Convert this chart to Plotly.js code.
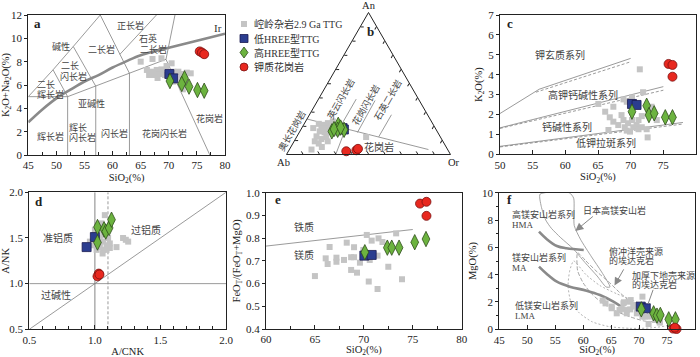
<!DOCTYPE html>
<html>
<head>
<meta charset="utf-8">
<script src="https://cdn.plot.ly/plotly-3.0.1.min.js"></script>
<style>
  html, body { margin: 0; padding: 0; background: #fff; }
  #chart { width: 700px; height: 357px; }
</style>
</head>
<body>
<div id="chart"></div>
<script>
const FONT = "'Liberation Serif', 'Noto Sans CJK SC', serif";
const W = 700;
const H = 357;

const seriesNames = ["崆岭杂岩2.9 Ga TTG", "低HREE型TTG", "高HREE型TTG", "钾质花岗岩"];

// panel a: SiO2 vs K2O+Na2O
const aGraySiO2 = [65.0, 67.1, 68.7, 66.1, 67.0, 67.85, 68.7, 69.6, 70.5, 70.8, 71.7, 72.3, 73.2, 73.9, 66.5, 67.5, 68.4, 69.3, 71.1, 70.8, 72.3, 72.4, 72.5, 68.0];
const aGrayAlk = [8.0, 8.23, 8.29, 7.29, 7.14, 7.29, 7.34, 7.63, 7.86, 7.14, 7.14, 6.94, 7.06, 7.0, 6.86, 6.86, 6.94, 6.86, 6.57, 6.29, 6.43, 6.1, 5.63, 6.6];
const aLowSiO2 = [70.1, 70.8];
const aLowAlk = [6.94, 6.57];
const aHighSiO2 = [70.2, 72.8, 72.3, 73.6, 75.1, 76.3];
const aHighAlk = [6.34, 6.57, 6.09, 5.86, 5.57, 5.51];
const aKSiO2 = [75.5, 75.9, 76.3];
const aKAlk = [8.88, 8.78, 8.64];
const aBoundSiO2 = [45, 52, null, 52, 52, null, 57, 57, null, 63, 63, null, 52, 57, 63, 69.5, null,
  45, 49.4, 53, 57.8, null, 49.4, 52, null, 53, 57, null, 57.8, 63, null, 61.3, 67.8, null, 71.1, 69.5, 77.3];
const aBoundAlk = [5, 5, null, 0, 5, null, 0, 5.9, null, 0, 7, null, 5, 5.9, 7, 8.2, null,
  5, 7.3, 9.3, 12, null, 7.3, 5, null, 9.3, 5.9, null, 12, 7, null, 8.63, 12, null, 12, 8.2, 0];
const irSiO2 = [45, 47.5, 50, 52.5, 55, 57.5, 60, 62.5, 65, 67.5, 70, 72.5, 75, 77.5, 80];
const irAlk = [2.8, 3.9, 4.85, 5.6, 6.3, 6.85, 7.5, 8.05, 8.55, 8.9, 9.2, 9.5, 9.8, 10.1, 10.4];

// panel b: An-Ab-Or (percent)
const bGrayAn = [21.6, 20.9, 22.1, 20.2, 18.6, 18.6, 16.3, 15.6, 16.3, 17.4, 12.8, 10.9, 12.3, 9.3, 7.7, 9.3, 18.6, 12.3, 23.3, 15.1, 5.3, 3.5];
const bGrayOr = [8.9, 11.8, 14.2, 17.1, 12.0, 15.0, 12.1, 15.4, 18.1, 20.5, 11.9, 15.8, 18.1, 12.6, 15.8, 20.5, 7.0, 42.4, 16.6, 23.6, 18.9, 13.5];
const bLowAn = [18.6, 17.6];
const bLowOr = [24.9, 26.2];
const bHighAn = [16.3, 20.9, 17.4, 17.4, 17.9, 19.0];
const bHighOr = [19.5, 21.1, 22.5, 26.4, 20.0, 23.5];
const bKAn = [2.3, 3.0, 4.0];
const bKOr = [35.3, 41.1, 41.6];
const bLinesAn = [[25, 3.5], [19, 39], [15.5, 38], [12.5, 28], [0, 18]];
const bLinesOr = [[0, 84.8], [23, 23], [35.5, 35], [50, 50], [30, 27]];

// panel c: SiO2 vs K2O
const cGraySiO2 = [71.4, 71.9, 65.05, 66.1, 67.35, 68.9, 69.4, 70.2, 66.8, 67.35, 66.6, 68.1, 68.9, 69.1, 69.6, 70.2, 70.4, 70.9, 71.2, 71.7, 72.45, 72.6, 71.2, 71.7, 68.6, 74.0, 73.2, 69.4, 69.9];
const cGrayK2O = [4.27, 3.12, 2.53, 2.14, 2.39, 2.76, 2.64, 2.86, 1.86, 1.64, 1.22, 1.47, 1.72, 1.36, 1.56, 1.72, 1.36, 1.47, 1.26, 1.36, 1.26, 0.85, 1.72, 1.92, 1.97, 1.72, 2.39, 1.19, 1.14];
const cLowSiO2 = [70.2, 70.9];
const cLowK2O = [2.53, 2.48];
const cHighSiO2 = [70.2, 72.45, 72.8, 73.6, 75.3, 76.4];
const cHighK2O = [2.14, 2.44, 1.97, 2.06, 1.86, 1.86];
const cKSiO2 = [75.8, 76.4, 76.4];
const cKK2O = [4.54, 4.49, 3.9];
const cSolidSiO2 = [50, 56, 70, null, 50, 75, null, 50, 78];
const cSolidK2O = [2.05, 3.27, 4.82, null, 1.33, 3.4, null, 0.4, 1.6];
const cDashSiO2 = [55.5, 70, null, 50, 75, null, 50, 78];
const cDashK2O = [3.12, 4.65, null, 1.3, 3.22, null, 0.37, 1.52];

// panel d: A/CNK vs A/NK
const dGrayACNK = [1.076, 1.05, 1.038, 1.063, 1.038, 1.063, 1.101, 1.089, 1.114, 1.114, 1.063, 1.013, 0.987, 0.962, 1.165, 1.215, 1.236, 1.254, 1.038, 1.089, 1.0, 1.059];
const dGrayANK = [1.75, 1.66, 1.59, 1.53, 1.50, 1.46, 1.50, 1.42, 1.44, 1.39, 1.37, 1.37, 1.42, 1.46, 1.40, 1.50, 1.48, 1.46, 1.40, 1.37, 1.59, 1.33];
const dLowACNK = [1.0, 0.937];
const dLowANK = [1.51, 1.40];
const dHighACNK = [1.02, 1.07, 1.083, 1.109, 1.127, 1.02];
const dHighANK = [1.62, 1.595, 1.57, 1.61, 1.70, 1.45];
const dKACNK = [1.03, 1.02, 1.035];
const dKANK = [1.11, 1.08, 1.10];

// panel e: SiO2 vs FeOT/(FeOT+MgO)
const eGraySiO2 = [65.0, 66.1, 66.3, 66.5, 67.2, 67.2, 67.97, 68.25, 68.7, 68.7, 69.0, 69.0, 69.3, 69.6, 70.3, 70.5, 70.6, 70.8, 71.5, 71.4, 71.9, 71.4, 72.5, 73.3, 73.9, 69.95];
const eGrayFe = [0.633, 0.711, 0.686, 0.761, 0.714, 0.696, 0.704, 0.780, 0.716, 0.660, 0.760, 0.716, 0.648, 0.692, 0.814, 0.609, 0.704, 0.789, 0.799, 0.576, 0.783, 0.723, 0.674, 0.821, 0.619, 0.748];
const eLowSiO2 = [70.05, 70.8];
const eLowFe = [0.723, 0.726];
const eHighSiO2 = [70.1, 72.4, 72.85, 73.6, 75.2, 76.35];
const eHighFe = [0.738, 0.758, 0.758, 0.758, 0.782, 0.796];
const eKSiO2 = [75.74, 76.4, 76.4];
const eKFe = [0.952, 0.96, 0.898];
const eLineSiO2 = [60, 75];
const eLineFe = [0.765, 0.838];

// panel f: SiO2 vs MgO
const fGraySiO2 = [65.1, 67.2, 68.1, 69.0, 70.6, 69.7, 70.6, 72.1, 72.85, 71.7, 73.7, 67.8, 66.5, 68.4, 67.3, 68.5, 66.9, 67.8, 69.0, 69.6, 70.5, 71.06, 72.26, 73.7, 66.0, 65.1, 64.0, 63.5];
const fGrayMgO = [1.66, 1.9, 2.02, 1.78, 2.39, 1.29, 0.93, 0.93, 0.68, 0.39, 0.49, 1.17, 1.41, 1.46, 1.98, 2.14, 1.49, 1.41, 1.66, 1.17, 1.34, 0.92, 1.17, 0.56, 1.17, 1.54, 1.9, 2.1];
const fLowSiO2 = [70.3, 71.2];
const fLowMgO = [1.66, 1.54];
const fHighSiO2 = [70.4, 72.6, 73.2, 73.8, 75.3, 76.5];
const fHighMgO = [1.46, 1.17, 1.0, 1.05, 0.73, 0.73];
const fKSiO2 = [76.1, 76.7, 76.4];
const fKMgO = [0.05, 0.02, 0.12];
const hmaSiO2 = [52.1, 53.5, 55.3, 57.0, 60.1];
const hmaMgO = [7.15, 6.6, 6.1, 5.93, 5.8];
const maSiO2 = [52.1, 53.5, 55.3, 57.6, 60.6, 63.0, 65.4, 67.0];
const maMgO = [4.59, 4.05, 3.49, 3.12, 2.83, 2.51, 2.02, 1.6];
const japanSiO2 = [52.3, 57.5, 58.3, 58.4, 59.5, 61.5, 63.3, 64.8, 64.1, 62.5, 60.3, 58.2, 56.0, 54.3, 53.3, 52.5, 52.3];
const japanMgO = [9.9, 10.0, 9.6, 7.6, 6.6, 5.3, 4.2, 3.1, 3.1, 3.9, 4.9, 5.9, 6.7, 7.4, 8.0, 9.0, 9.9];
const slabSiO2 = [59.0, 60.5, 62.5, 64.5, 66.5, 68.5, 70.5, 72.5, 73.0, 71.0, 68.5, 66.0, 63.5, 61.5, 60.0, 59.0, 59.0];
const slabMgO = [5.6, 5.0, 4.2, 3.5, 2.7, 2.0, 1.4, 0.9, 0.6, 0.6, 0.9, 1.3, 1.9, 2.6, 3.4, 4.3, 5.6];
const crustSiO2 = [58.3, 57.6, 57.3, 57.8, 59.3, 61.6, 64.6, 68.4, 72.0, 75.5, 75.0, 72.0, 69.0, 66.0, 63.0, 60.5, 58.3];
const crustMgO = [5.0, 4.3, 3.2, 2.0, 1.2, 0.55, 0.2, 0.07, 0.1, 0.35, 0.8, 1.5, 2.1, 2.6, 3.2, 4.0, 5.0];

const markers = [
  { symbol: "square", size: 6, color: "#c4c4c4" },
  { symbol: "square", size: 9, color: "#2b3d8f", line: { color: "#1b1b50", width: 0.8 } },
  { symbol: "diamond-tall", size: 11, color: "#6cb33f", line: { color: "#2e4d1c", width: 0.8 } },
  { symbol: "circle", size: 9, color: "#e8281f", line: { color: "#7a1010", width: 0.8 } }
];

const px = (x) => x / W;
const py = (y) => 1 - y / H;

function lineTrace(x, y, axis, line) {
  return {
    type: "scatter", mode: "lines", x, y,
    xaxis: "x" + axis, yaxis: "y" + axis,
    line, showlegend: false, hoverinfo: "skip", connectgaps: false
  };
}

function pointTraces(groups, axis) {
  return groups.map(([x, y], i) => ({
    type: "scatter", mode: "markers", x, y,
    xaxis: "x" + axis, yaxis: "y" + axis,
    marker: markers[i], name: seriesNames[i], showlegend: false, cliponaxis: false
  }));
}

const thin = { color: "#808080", width: 0.8 };
const traces = [];

// a
traces.push(lineTrace(aBoundSiO2, aBoundAlk, "", thin));
traces.push(lineTrace(irSiO2, irAlk, "", { color: "#8a8a8a", width: 2.6, shape: "spline" }));
traces.push(...pointTraces([[aGraySiO2, aGrayAlk], [aLowSiO2, aLowAlk], [aHighSiO2, aHighAlk], [aKSiO2, aKAlk]], ""));

// b
bLinesAn.forEach((an, i) => {
  traces.push({
    type: "scatterternary", mode: "lines",
    a: an, c: bLinesOr[i], b: an.map((v, j) => 100 - v - bLinesOr[i][j]),
    line: thin, showlegend: false, hoverinfo: "skip"
  });
});
[[bGrayAn, bGrayOr], [bLowAn, bLowOr], [bHighAn, bHighOr], [bKAn, bKOr]].forEach(([an, or], i) => {
  traces.push({
    type: "scatterternary", mode: "markers",
    a: an, c: or, b: an.map((v, j) => 100 - v - or[j]),
    marker: markers[i], name: seriesNames[i], showlegend: false, cliponaxis: false
  });
});

// c
traces.push(lineTrace(cSolidSiO2, cSolidK2O, "2", thin));
traces.push(lineTrace(cDashSiO2, cDashK2O, "2", { color: "#808080", width: 0.8, dash: "3px,2px" }));
traces.push(...pointTraces([[cGraySiO2, cGrayK2O], [cLowSiO2, cLowK2O], [cHighSiO2, cHighK2O], [cKSiO2, cKK2O]], "2"));

// d
traces.push(lineTrace([1.0, 1.0], [0.5, 2.0], "3", { color: "#999", width: 1.2 }));
traces.push(lineTrace([1.1, 1.1], [0.5, 2.0], "3", { color: "#999", width: 1, dash: "3px,2px" }));
traces.push(lineTrace([0.5, 2.0, null, 0.5, 2.0], [1.0, 1.0, null, 0.5, 2.0], "3", thin));
traces.push(...pointTraces([[dGrayACNK, dGrayANK], [dLowACNK, dLowANK], [dHighACNK, dHighANK], [dKACNK, dKANK]], "3"));

// e
traces.push(lineTrace(eLineSiO2, eLineFe, "4", thin));
traces.push(...pointTraces([[eGraySiO2, eGrayFe], [eLowSiO2, eLowFe], [eHighSiO2, eHighFe], [eKSiO2, eKFe]], "4"));

// f
traces.push(lineTrace(japanSiO2, japanMgO, "5", { color: "#999", width: 0.9, shape: "spline", smoothing: 0.6 }));
traces.push(lineTrace(slabSiO2, slabMgO, "5", { color: "#999", width: 0.9, dash: "4px,2px", shape: "spline", smoothing: 0.6 }));
traces.push(lineTrace(crustSiO2, crustMgO, "5", { color: "#aaa", width: 0.9, dash: "2px,2px", shape: "spline", smoothing: 0.6 }));
traces.push(lineTrace(hmaSiO2, hmaMgO, "5", { color: "#8a8a8a", width: 2.6, shape: "spline" }));
traces.push(lineTrace(maSiO2, maMgO, "5", { color: "#8a8a8a", width: 2.6, shape: "spline" }));
traces.push(...pointTraces([[fGraySiO2, fGrayMgO], [fLowSiO2, fLowMgO], [fHighSiO2, fHighMgO], [fKSiO2, fKMgO]], "5"));

function xAxis(dom, range, dtick, minor, title, anchor, fmt, standoff) {
  return {
    domain: dom, range, dtick, tick0: range[0], anchor, tickformat: fmt || "",
    ticks: "inside", ticklen: 4, tickcolor: "#222",
    minor: minor ? { dtick: minor, ticks: "inside", ticklen: 3, tickcolor: "#222" } : undefined,
    showline: true, mirror: true, linecolor: "#222", linewidth: 1,
    showgrid: false, zeroline: false,
    tickfont: { size: 11, color: "#222" },
    title: { text: title, font: { size: 10.5, color: "#222" }, standoff: standoff || 3 }
  };
}

function yAxis(dom, range, dtick, minor, title, anchor, fmt) {
  return {
    domain: dom, range, dtick, tick0: range[0], anchor, tickformat: fmt || "",
    ticks: "outside", ticklen: 3, tickcolor: "#222",
    minor: minor ? { dtick: minor, ticks: "outside", ticklen: 2, tickcolor: "#222" } : undefined,
    showline: true, mirror: true, linecolor: "#222", linewidth: 1,
    showgrid: false, zeroline: false,
    tickfont: { size: 11, color: "#222" },
    title: { text: title, font: { size: 10.5, color: "#222" }, standoff: 3 }
  };
}

const sio2 = "SiO<sub>2</sub>(%)";

function ternAxis(title) {
  return {
    title: { text: title, font: { size: 10.5, color: "#222" } },
    showticklabels: false, ticks: "inside", ticklen: 3, dtick: 10, tickcolor: "#222",
    showgrid: false, linecolor: "#222", linewidth: 1
  };
}

// text labels: [text, x, y]
const aLabels = [["碱性", 50.9, 9.29], ["正长岩", 63.1, 11.06], ["二长岩", 58.06, 9.06], ["石英", 66.3, 9.98], ["二长岩", 67.2, 9.08],
  ["二长", 52.5, 7.7], ["闪长岩", 53.1, 6.77], ["二长", 48.1, 6.05], ["辉长岩", 49.0, 5.2], ["亚碱性", 56.3, 4.43],
  ["辉长岩", 49.0, 1.57], ["辉长", 53.9, 2.38], ["闪长岩", 54.6, 1.5], ["闪长岩", 60.25, 1.86], ["花岗闪长岩", 69.15, 1.86], ["花岗岩", 77.3, 3.14]];
const bLabels = [["奥长花岗岩", 291, 131], ["英云闪长岩", 340, 99], ["花岗闪长岩", 365, 105], ["石英二长岩", 387, 100]];
const cLabels = [["钾玄质系列", 59.2, 5.0], ["高钾钙碱性系列", 62.75, 3.0], ["钙碱性系列", 60.2, 1.39], ["低钾拉斑系列", 66.2, 0.55]];
const dLabels = [["准铝质", 0.72, 1.49], ["过铝质", 1.39, 1.59], ["过碱性", 0.70, 0.875]];
const eLabels = [["铁质", 63.9, 0.85], ["镁质", 63.9, 0.726]];
const fLabels = [["高镁安山岩系列", 46.9, 8.4], ["HMA", 46.9, 7.65], ["镁安山岩系列", 46.9, 5.25], ["MA", 46.9, 4.5],
  ["低镁安山岩系列", 47.5, 1.75], ["LMA", 47.5, 1.0], ["日本高镁安山岩", 59.7, 8.68],
  ["俯冲洋壳来源", 64.2, 5.7], ["的埃达克岩", 64.2, 5.02], ["加厚下地壳来源", 68.3, 3.95], ["的埃达克岩", 68.3, 3.27]];

const labelFont = { family: FONT, size: 10, color: "#444" };
const smallFont = { family: FONT, size: 9, color: "#444" };
const annotations = [];
const addLabels = (list, axis, font, anchor) => list.forEach(([text, x, y]) => annotations.push({
  text, x, y, xref: "x" + axis, yref: "y" + axis, showarrow: false, font,
  xanchor: anchor || "center", yanchor: "middle"
}));
addLabels(aLabels, "", smallFont);
addLabels(cLabels, "2", labelFont);
addLabels(dLabels, "3", labelFont);
addLabels(eLabels, "4", labelFont);
addLabels(fLabels, "5", smallFont, "left");
annotations.push({ text: "Ir", x: 78.8, y: 10.86, xref: "x", yref: "y", showarrow: false, font: { family: FONT, size: 11, color: "#333" } });

const paperNote = (text, x, y, font, angle) => ({
  text, x: px(x), y: py(y), xref: "paper", yref: "paper", showarrow: false,
  xanchor: "center", yanchor: "middle", textangle: angle || 0, font
});
bLabels.forEach(([text, x, y]) => annotations.push(paperNote(text, x, y, smallFont, -60)));
annotations.push(paperNote("花岗岩", 379, 146.5, labelFont));

const panelLetters = [["a", 46.55, 11.23, ""], ["c", 51.5, 6.55, "2"], ["d", 0.574, 1.897, "3"], ["e", 61.2, 0.971, "4"], ["f", 46.9, 9.47, "5"]];
const letterFont = { family: FONT, size: 13, color: "#222" };
panelLetters.forEach(([text, x, y, axis]) => annotations.push({
  text: "<b>" + text + "</b>", x, y, xref: "x" + axis, yref: "y" + axis, showarrow: false, font: letterFont
}));
annotations.push(paperNote("<b>b</b>", 370, 31.7, letterFont));

const arrows = [[58.6, 7.2, 62.0, 8.35, 2], [65.6, 3.2, 67.4, 4.5, 2], [71.6, 1.85, 72.6, 3.0, 0]];
arrows.forEach(([x, y, ax, ay, head]) => annotations.push({
  text: "", x, y, ax, ay, xref: "x5", yref: "y5", axref: "x5", ayref: "y5",
  showarrow: true, arrowhead: head, arrowsize: 1.6, arrowwidth: 1, arrowcolor: "#888"
}));

// key: swatches drawn as shapes, names as text
const keyRows = [24, 38.5, 52.5, 67];
const keyX = 244;
const shapes = [];
const keyRect = (r, half, m) => ({
  type: "rect", xref: "paper", yref: "paper",
  x0: px(keyX - half), x1: px(keyX + half), y0: py(r + half), y1: py(r - half),
  fillcolor: m.color, line: { color: m.line ? m.line.color : m.color, width: m.line ? 0.8 : 0 }
});
shapes.push(keyRect(keyRows[0], 3, markers[0]));
shapes.push(keyRect(keyRows[1], 4, markers[1]));
shapes.push({
  type: "path", xref: "paper", yref: "paper",
  path: `M ${px(keyX)} ${py(keyRows[2] - 5.5)} L ${px(keyX + 4)} ${py(keyRows[2])} L ${px(keyX)} ${py(keyRows[2] + 5.5)} L ${px(keyX - 4)} ${py(keyRows[2])} Z`,
  fillcolor: markers[2].color, line: { color: markers[2].line.color, width: 0.8 }
});
shapes.push(Object.assign(keyRect(keyRows[3], 4, markers[3]), { type: "circle" }));
seriesNames.forEach((name, i) => annotations.push({
  text: name, x: px(252), y: py(keyRows[i]), xref: "paper", yref: "paper",
  xanchor: "left", yanchor: "middle", showarrow: false, font: { family: FONT, size: 10, color: "#333" }
}));

const layout = {
  width: W, height: H,
  margin: { l: 0, r: 0, t: 0, b: 0 },
  paper_bgcolor: "#fff", plot_bgcolor: "#fff",
  font: { family: FONT, color: "#222" },
  showlegend: false,
  xaxis: xAxis([px(28.3), px(225)], [45, 80], 5, 2.5, sio2, "y"),
  yaxis: yAxis([py(155), py(15)], [0, 12], 2, null, "K<sub>2</sub>O+Na<sub>2</sub>O(%)", "x"),
  xaxis2: xAxis([px(500), px(696)], [50, 80], 5, null, sio2, "y2"),
  yaxis2: yAxis([py(154.3), py(15)], [0, 7], 1, null, "K<sub>2</sub>O(%)", "x2"),
  xaxis3: xAxis([px(29.3), px(226)], [0.5, 2.0], 0.5, 0.1, "A/CNK", "y3", ".1f", 5),
  yaxis3: yAxis([py(329.3), py(192.3)], [0.5, 2.0], 0.5, null, "A/NK", "x3", ".1f"),
  xaxis4: xAxis([px(266), px(461.7)], [60, 80], 5, 2.5, sio2, "y4", "", 5),
  yaxis4: yAxis([py(329), py(192.7)], [0.4, 1.0], 0.1, null, "FeO<sub>T</sub>/(FeO<sub>T</sub>+MgO)", "x4", ".1f"),
  xaxis5: xAxis([px(499.3), px(695)], [45, 80], 5, null, sio2, "y5", "", 5),
  yaxis5: yAxis([py(329.3), py(192.7)], [0, 10], 2, 1, "MgO(%)", "x5"),
  ternary: {
    sum: 100,
    domain: { x: [px(286.5), px(450.5)], y: [py(155), py(12)] },
    bgcolor: "#fff",
    aaxis: ternAxis("An"),
    baxis: ternAxis("Ab"),
    caxis: ternAxis("Or")
  },
  shapes,
  annotations
};

Plotly.newPlot("chart", traces, layout, { displayModeBar: false, staticPlot: true });
</script>
</body>
</html>
